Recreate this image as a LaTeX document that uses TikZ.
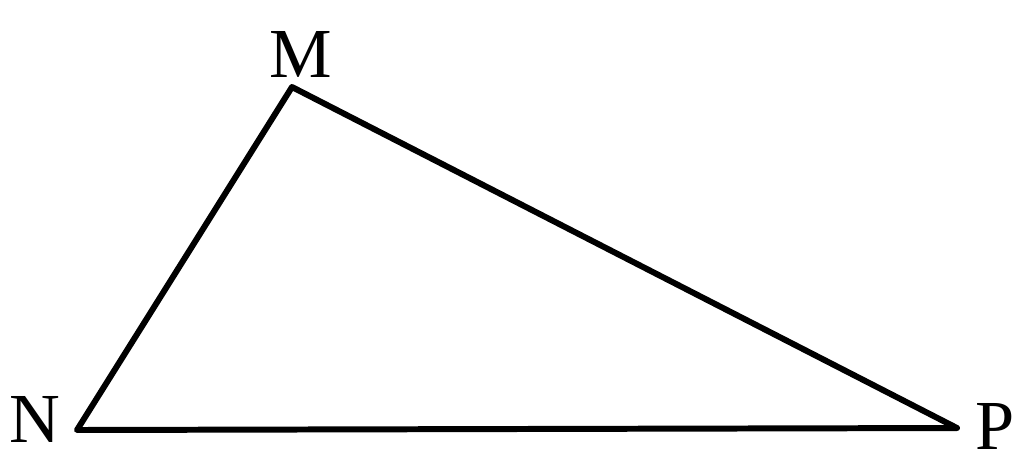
\documentclass[tikz,border=0pt]{standalone}
\usepackage{fontspec}
\setmainfont{Liberation Serif}
\usetikzlibrary{calc}
\begin{document}
\begin{tikzpicture}[vertex/.style={inner sep=0pt, font=\fontsize{20}{22}\selectfont}, side/.style={line width=1.7pt, line join=round, line cap=round}]
\useasboundingbox (0,0) rectangle (10.24,4.72);

\coordinate (M) at (2.92,3.85);
\coordinate (N) at (0.77,0.42);
\coordinate (P) at (9.57,0.44);

\node[vertex](lm) at (3.01,4.18){M};
\node[vertex](ln) at (0.35,0.53){N};
\node[vertex](lp) at (9.95,0.46){P};

\draw[side] (M) -- (N) -- (P) -- cycle;
\end{tikzpicture}
\end{document}
